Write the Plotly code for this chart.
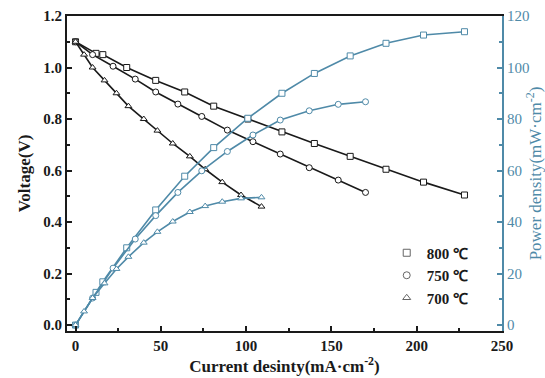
import plotly.graph_objects as go

# ---- data ----
x_800 = [0, 12, 16, 30, 47, 64, 81, 101, 121, 140, 161, 182, 204, 228]
v_800 = [1.10, 1.055, 1.05, 1.0, 0.95, 0.905, 0.85, 0.80, 0.75, 0.705, 0.655, 0.605, 0.555, 0.505]
p_800 = [0, 12.7, 16.8, 30, 44.7, 57.8, 68.9, 80.3, 90, 97.7, 104.5, 109.4, 112.6, 113.9]

x_750 = [0, 10, 22, 35, 47, 60, 74, 89, 104, 120, 137, 154, 170]
v_750 = [1.10, 1.05, 1.005, 0.955, 0.905, 0.858, 0.81, 0.757, 0.712, 0.664, 0.611, 0.563, 0.515]
p_750 = [0, 10.5, 22.1, 33.4, 42.5, 51.5, 59.9, 67.4, 73.8, 79.6, 83.2, 85.7, 86.7]

x_700 = [0, 5, 10, 17, 24, 31, 40, 48, 57, 67, 76, 86, 97, 109]
v_700 = [1.10, 1.05, 1.0, 0.95, 0.90, 0.85, 0.80, 0.755, 0.705, 0.655, 0.605, 0.555, 0.505, 0.46]
p_700 = [0, 5.3, 10.5, 16.2, 21.8, 26.5, 32, 36.2, 40.2, 43.9, 46.2, 47.9, 49.2, 49.6]

labels = ["800 \u2103", "750 \u2103", "700 \u2103"]
symbols = ["square", "circle", "triangle-up"]

BLACK = "#1a1a1a"
BLUE = "#4f8aa8"
FONT = "Liberation Serif, Times New Roman, serif"

fig = go.Figure()

series = [(x_800, v_800, p_800), (x_750, v_750, p_750), (x_700, v_700, p_700)]
for (xs, vs, ps), sym in zip(series, symbols):
    fig.add_trace(go.Scatter(
        x=xs, y=vs, mode="lines+markers", showlegend=False,
        line=dict(color=BLACK, width=1.6),
        marker=dict(symbol=sym, size=6, color="white", line=dict(color=BLACK, width=1)),
    ))
    fig.add_trace(go.Scatter(
        x=xs, y=ps, mode="lines+markers", showlegend=False, yaxis="y2",
        line=dict(color=BLUE, width=1.6),
        marker=dict(symbol=sym, size=6, color="white", line=dict(color=BLUE, width=1)),
    ))

for lab, sym in zip(labels, symbols):
    fig.add_trace(go.Scatter(
        x=[None], y=[None], mode="markers", name=lab,
        marker=dict(symbol=sym, size=7, color="white", line=dict(color="#666", width=1)),
    ))

fig.update_layout(
    width=545, height=378,
    margin=dict(l=67, r=43, t=16, b=47),
    paper_bgcolor="white", plot_bgcolor="white",
    font=dict(family=FONT, size=13, color=BLACK),
    xaxis=dict(
        range=[-5, 250], tickvals=[0, 50, 100, 150, 200, 250], automargin=False,
        ticks="inside", ticklen=5, tickwidth=1.5, tickcolor=BLACK,
        minor=dict(ticks="inside", dtick=25, tick0=0, ticklen=3, tickcolor=BLACK),
        showline=True, linecolor=BLACK, linewidth=2, mirror=True,
        showgrid=False, zeroline=False,
        tickfont=dict(family=FONT, size=15, color=BLACK, weight="bold"),
        title=dict(text="Current desinty(mA\u00b7cm<sup>-2</sup>)", standoff=6,
                   font=dict(family=FONT, size=17, color=BLACK, weight="bold")),
    ),
    yaxis=dict(
        range=[-0.023, 1.2], tickvals=[0, 0.2, 0.4, 0.6, 0.8, 1.0, 1.2], automargin=False,
        tickformat=".1f",
        ticks="inside", ticklen=5, tickwidth=1.5, tickcolor=BLACK,
        minor=dict(ticks="inside", dtick=0.1, tick0=0, ticklen=3, tickcolor=BLACK),
        showline=True, linecolor=BLACK, linewidth=2,
        showgrid=False, zeroline=False,
        tickfont=dict(family=FONT, size=15, color=BLACK, weight="bold"),
        title=dict(text="Voltage(V)", standoff=8,
                   font=dict(family=FONT, size=17, color=BLACK, weight="bold")),
    ),
    yaxis2=dict(
        overlaying="y", side="right", automargin=False,
        range=[-2.3, 120], tickvals=[0, 20, 40, 60, 80, 100, 120],
        ticks="inside", ticklen=5, tickwidth=1.5, tickcolor=BLUE,
        minor=dict(ticks="inside", dtick=10, tick0=0, ticklen=3, tickcolor=BLUE),
        showline=True, linecolor=BLUE, linewidth=2,
        showgrid=False, zeroline=False,
        tickfont=dict(family=FONT, size=15, color=BLUE),
        title=dict(text="Power density(mW\u00b7cm<sup>-2</sup>)", standoff=6,
                   font=dict(family=FONT, size=17, color=BLUE)),
    ),
    legend=dict(
        x=0.735, y=0.30, xanchor="left", yanchor="top",
        bgcolor="rgba(0,0,0,0)", borderwidth=0,
        font=dict(family=FONT, size=15, color=BLACK, weight="bold"),
        itemwidth=30, tracegroupgap=0,
    ),
)

fig.write_html("out.html")
